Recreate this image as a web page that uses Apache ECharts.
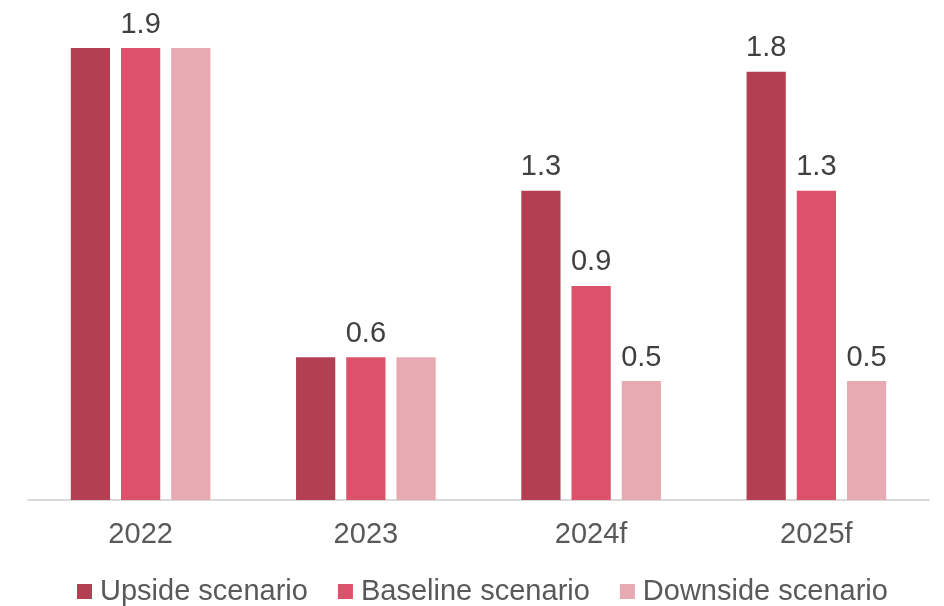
<!DOCTYPE html>
<html><head><meta charset="utf-8">
<script src="https://cdn.jsdelivr.net/npm/echarts@6/dist/echarts.min.js"></script>
<style>html,body{margin:0;padding:0;background:#fff}#c{width:944px;height:606px}</style>
</head><body><div id="c"></div>
<script>
const categories = ['2022', '2023', '2024f', '2025f'];
const upside = [1.9, 0.6, 1.3, 1.8];
const baseline = [1.9, 0.6, 0.9, 1.3];
const downside = [1.9, 0.6, 0.5, 0.5];
const upsideLabeled = [false, false, true, true];
const baselineLabeled = [true, true, true, true];
const downsideLabeled = [false, false, true, true];
const seriesNames = ['Upside scenario', 'Baseline scenario', 'Downside scenario'];
const colors = ['#B24052', '#DC526A', '#E8AAB2'];

const font = 'Liberation Sans, Arial, sans-serif';
function mk(name, vals, lab, color) {
  return {
    name, type: 'bar', barGap: '28%', barCategoryGap: '38%',
    itemStyle: { color },
    data: vals.map((v, i) => ({ value: v, label: { show: lab[i] } })),
    label: { position: 'top', distance: 9, fontSize: 29, color: '#404040', fontFamily: font,
      formatter: p => p.value.toFixed(1) }
  };
}
const chart = echarts.init(document.getElementById('c'));
chart.setOption({
  animation: false,
  color: colors,
  grid: { left: 28, right: 15, top: 48, bottom: 106, containLabel: false },
  legend: { top: 572, left: 72, itemWidth: 15, itemHeight: 15, itemGap: 30,
    icon: 'rect',
    textStyle: { fontSize: 29, color: '#595959', fontFamily: font, padding: [0, 0, 0, 3] },
    data: seriesNames },
  xAxis: { type: 'category', data: categories,
    axisLine: { lineStyle: { color: '#D9D9D9', width: 2 } },
    axisTick: { show: false },
    axisLabel: { fontSize: 29, color: '#595959', fontFamily: font, margin: 20 } },
  yAxis: { type: 'value', min: 0, max: 1.9, show: false, splitLine: { show: false } },
  series: [
    mk(seriesNames[0], upside, upsideLabeled, colors[0]),
    mk(seriesNames[1], baseline, baselineLabeled, colors[1]),
    mk(seriesNames[2], downside, downsideLabeled, colors[2])
  ]
});
</script></body></html>
